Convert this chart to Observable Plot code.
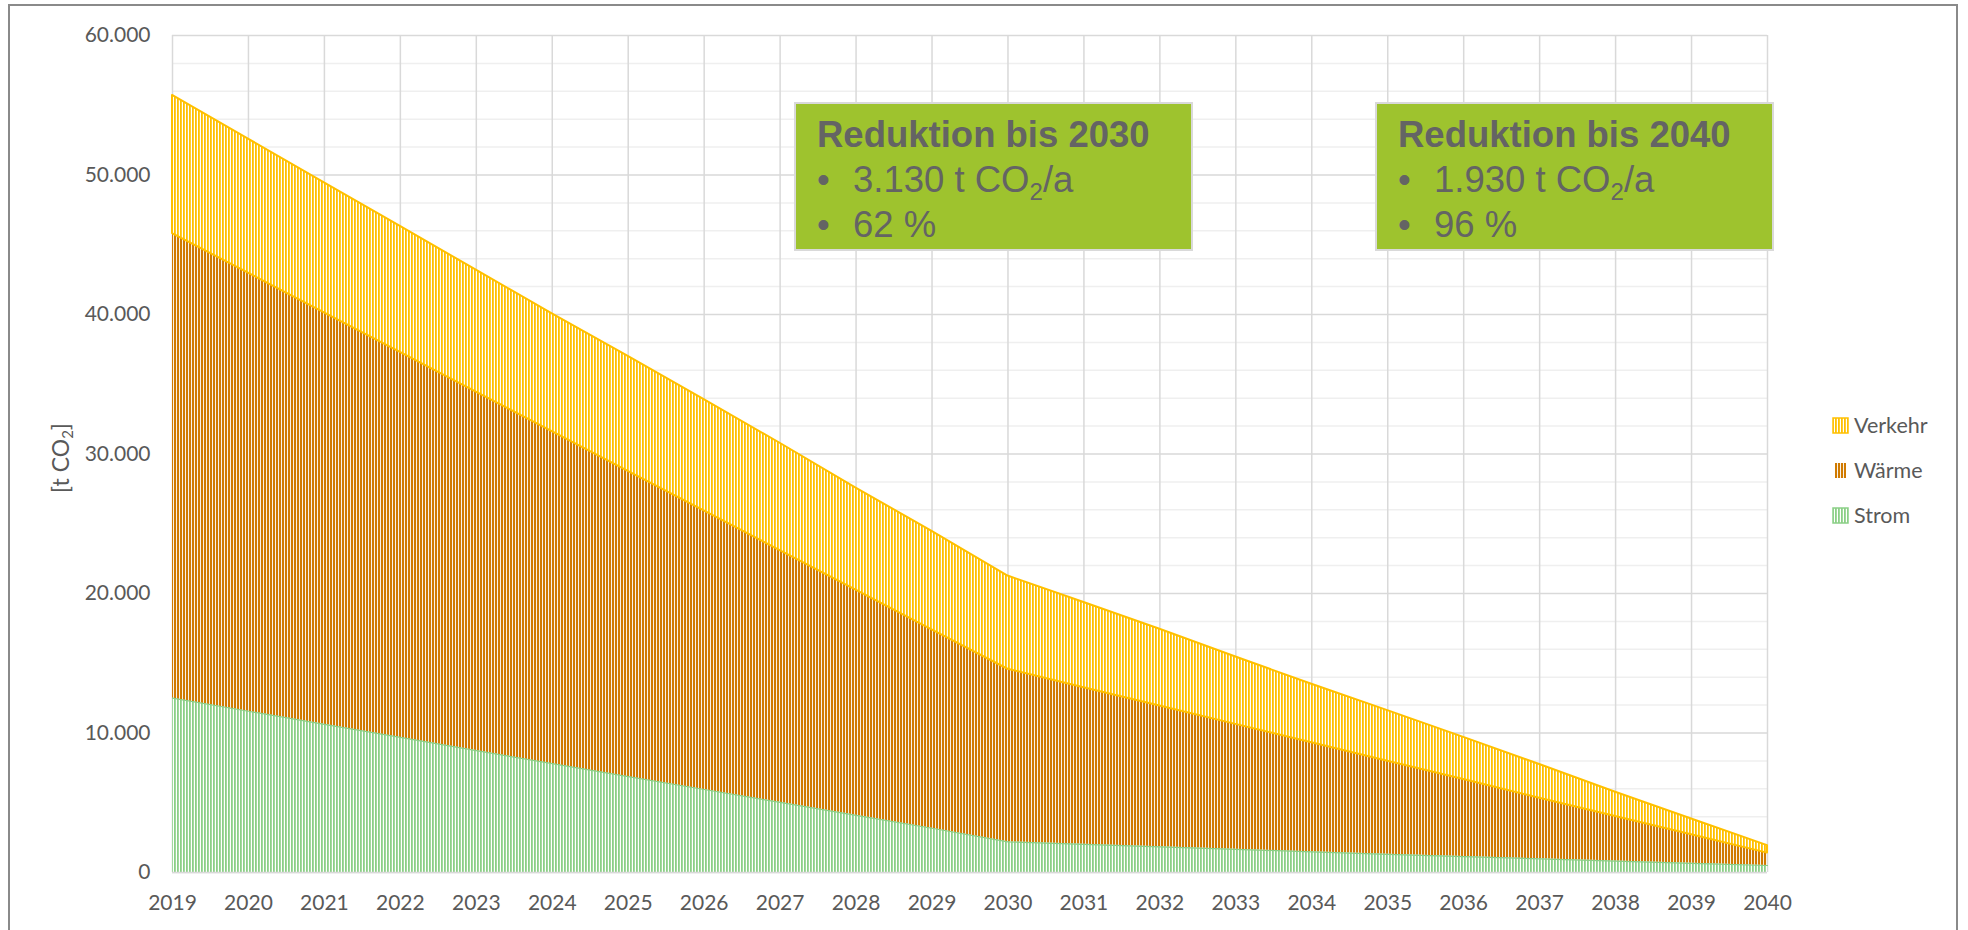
<!DOCTYPE html>
<html>
<head>
<meta charset="utf-8">
<script src="https://cdn.jsdelivr.net/npm/d3@7"></script>
<script src="https://cdn.jsdelivr.net/npm/@observablehq/plot@0.6"></script>
<style>
html, body { margin: 0; padding: 0; background: #fff; }
#wrap { position: relative; width: 1968px; height: 930px; overflow: hidden; font-family: Lato, "Open Sans", sans-serif; color: #595959; }
#chart { position: absolute; left: 0; top: 0; }
#frame { position: absolute; left: 8px; top: 4px; width: 1950px; height: 960px; border: 2px solid #8a8a8a; box-sizing: border-box; pointer-events: none; }
.box { position: absolute; top: 102px; height: 149px; background: #9ec32e; border: 2px solid #d9d9d9; box-sizing: border-box;
       font-family: "Liberation Sans", Arial, sans-serif; color: #646464; font-size: 36.5px; line-height: 45px; padding: 8px 0 0 21px; white-space: nowrap; }
.box .t { font-weight: bold; }
.box .b { display: inline-block; width: 36px; }
.box sub { font-size: 24px; vertical-align: -8px; line-height: 0; }
#ylab { position: absolute; left: 60px; top: 458px; transform: translate(-50%, -50%) rotate(-90deg); white-space: nowrap; font-size: 23px; }
#ylab sub { font-size: 15px; vertical-align: -4px; line-height: 0; }
.leg { position: absolute; left: 1832px; height: 24px; display: flex; align-items: center; font-size: 21.5px; white-space: nowrap; }
.leg svg { margin-right: 5px; }
</style>
</head>
<body>
<div id="wrap">
  <svg width="0" height="0" style="position:absolute">
    <defs>
      <pattern id="pV" patternUnits="userSpaceOnUse" width="3" height="10">
        <rect x="0" y="0" width="3" height="10" fill="#ffffff"></rect>
        <rect x="0" y="0" width="1.8" height="10" fill="#ffc000"></rect>
      </pattern>
      <pattern id="pW" patternUnits="userSpaceOnUse" width="3" height="10">
        <rect x="0" y="0" width="3" height="10" fill="#ffffff"></rect>
        <rect x="0" y="0" width="2.1" height="10" fill="#d07a00"></rect>
      </pattern>
      <pattern id="pS" patternUnits="userSpaceOnUse" width="3" height="10">
        <rect x="0" y="0" width="3" height="10" fill="#ffffff"></rect>
        <rect x="0" y="0" width="1.8" height="10" fill="#8bcf86"></rect>
      </pattern>
    </defs>
  </svg>
  <div id="chart"></div>
  <div id="ylab">[t CO<sub>2</sub>]</div>
  <div class="box" style="left:794px;width:399px;">
    <div class="t">Reduktion bis 2030</div>
    <div><span class="b">•</span>3.130 t CO<sub>2</sub>/a</div>
    <div><span class="b">•</span>62 %</div>
  </div>
  <div class="box" style="left:1375px;width:399px;">
    <div class="t">Reduktion bis 2040</div>
    <div><span class="b">•</span>1.930 t CO<sub>2</sub>/a</div>
    <div><span class="b">•</span>96 %</div>
  </div>
  <div id="legend"></div>
  <div id="frame"></div>
</div>
<script>
// ---- data (t CO2 per sector) ----
const years   = [2019, 2020, 2021, 2022, 2023, 2024, 2025, 2026, 2027, 2028, 2029, 2030, 2031, 2032, 2033, 2034, 2035, 2036, 2037, 2038, 2039, 2040];
const strom   = [12500, 11560, 10620, 9680, 8740, 7800, 6870, 5950, 5030, 4100, 3170, 2200, 2020, 1840, 1660, 1480, 1300, 1140, 980, 820, 660, 500];
const waerme  = [33300, 31400, 29500, 27600, 25700, 23800, 21890, 19970, 18050, 16140, 14230, 12370, 11230, 10090, 8960, 7820, 6680, 5520, 4340, 3190, 2040, 890];
const verkehr = [9900, 9610, 9320, 9030, 8740, 8450, 8240, 7980, 7690, 7320, 7050, 6680, 6100, 5510, 4830, 4190, 3620, 3030, 2420, 1740, 1140, 540];
const seriesNames = ["Verkehr", "Wärme", "Strom"];
const yMajorTicks = [0, 10000, 20000, 30000, 40000, 50000, 60000];
const yMinorTicks = [2000, 4000, 6000, 8000, 12000, 14000, 16000, 18000, 22000, 24000, 26000, 28000, 32000, 34000, 36000, 38000, 42000, 44000, 46000, 48000, 52000, 54000, 56000, 58000];

// stacked bounds
const rows = years.map((year, i) => {
  const s1 = strom[i];
  const w1 = s1 + waerme[i];
  const v1 = w1 + verkehr[i];
  return {year, s0: 0, s1, w1, v1};
});

const fmtDE = d => d3.format(",")(d).replace(/,/g, ".");

const chart = Plot.plot({
  width: 1968,
  height: 930,
  marginLeft: 172,
  marginRight: 201,
  marginTop: 35,
  marginBottom: 58,
  style: {fontFamily: "Lato, 'Open Sans', sans-serif", fontSize: "21px", color: "#595959", background: "transparent"},
  x: {domain: [2019, 2040], ticks: years, tickFormat: d => String(d), tickSize: 0, tickPadding: 23, label: null},
  y: {domain: [0, 60000], ticks: yMajorTicks, tickFormat: fmtDE, tickSize: 0, tickPadding: 22, label: null},
  marks: [
    Plot.ruleY(yMinorTicks, {stroke: "#efefef", strokeWidth: 1.5}),
    Plot.ruleY(yMajorTicks, {stroke: "#d9d9d9", strokeWidth: 1.5}),
    Plot.ruleX(years, {stroke: "#d9d9d9", strokeWidth: 1.5}),
    Plot.areaY(rows, {x: "year", y1: "s0", y2: "s1", fill: "url(#pS)"}),
    Plot.areaY(rows, {x: "year", y1: "s1", y2: "w1", fill: "url(#pW)"}),
    Plot.lineY(rows, {x: "year", y: "s1", stroke: "#8bcf86", strokeWidth: 1.2}),
    Plot.areaY(rows, {x: "year", y1: "w1", y2: "v1", fill: "url(#pV)", stroke: "#ffc000", strokeWidth: 2}),
    Plot.ruleY([0], {stroke: "#d9d9d9", strokeWidth: 1.5})
  ]
});
document.getElementById("chart").appendChild(chart);

// legend
const legendDefs = {
  "Verkehr": {pat: "pV", stroke: "#ffc000", border: true},
  "Wärme":   {pat: "pW", stroke: "#d07a00", border: false},
  "Strom":   {pat: "pS", stroke: "#8bcf86", border: true}
};
const legendTops = [413, 458, 503];
const legend = d3.select("#legend");
seriesNames.forEach((name, i) => {
  const item = legend.append("div").attr("class", "leg").style("top", legendTops[i] + "px");
  const sw = item.append("svg").attr("width", 17).attr("height", 17);
  const def = legendDefs[name];
  if (def.border) {
    sw.append("rect").attr("x", 1).attr("y", 1).attr("width", 15).attr("height", 15)
      .attr("fill", `url(#${def.pat})`).attr("stroke", def.stroke).attr("stroke-width", 1.5);
  } else {
    sw.append("rect").attr("x", 3).attr("y", 1).attr("width", 11).attr("height", 15)
      .attr("fill", `url(#${def.pat})`);
  }
  item.append("span").text(name);
});
</script>
</body>
</html>
